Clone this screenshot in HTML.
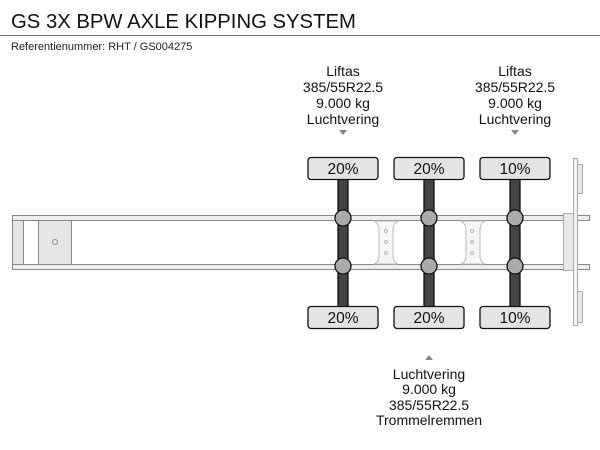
<!DOCTYPE html>
<html><head><meta charset="utf-8"><style>
html,body{margin:0;padding:0;background:#fff;}
svg{display:block;font-family:"Liberation Sans",sans-serif;}
</style></head><body>
<svg width="600" height="450" viewBox="0 0 600 450" xmlns="http://www.w3.org/2000/svg">
<text x="11" y="28" font-size="20.3" fill="#111">GS 3X BPW AXLE KIPPING SYSTEM</text>
<line x1="0" y1="35.5" x2="600" y2="35.5" stroke="#777" stroke-width="1"/>
<text x="11" y="50" font-size="11" fill="#222">Referentienummer: RHT / GS004275</text>

<g font-size="14" fill="#111" text-anchor="middle">
<text x="343" y="76">Liftas</text><text x="343" y="92">385/55R22.5</text><text x="343" y="108">9.000 kg</text><text x="343" y="124">Luchtvering</text>
<text x="515" y="76">Liftas</text><text x="515" y="92">385/55R22.5</text><text x="515" y="108">9.000 kg</text><text x="515" y="124">Luchtvering</text>
<text x="429" y="379">Luchtvering</text><text x="429" y="394">9.000 kg</text><text x="429" y="410">385/55R22.5</text><text x="429" y="425">Trommelremmen</text>
</g>
<polygon points="339,130 347,130 343,135" fill="#888"/>
<polygon points="511,130 519,130 515,135" fill="#888"/>
<polygon points="425,360 433,360 429,355" fill="#888"/>

<g stroke="#888" stroke-width="1">
<rect x="12.5" y="215.5" width="577" height="5" fill="#eee"/>
<rect x="12.5" y="264.5" width="577" height="5" fill="#eee"/>
<rect x="12.5" y="220.5" width="11" height="44" fill="#e6e6e6"/>
<rect x="38.5" y="220.5" width="33" height="44" fill="#e6e6e6"/>
<circle cx="55" cy="242" r="2.5" fill="none"/>
</g>
<g stroke="#bbb" stroke-width="1" fill="#f6f6f6">
<path d="M374,221 Q379,224 379,230 L379,256 Q379,262 374,264 L398,264 Q393,262 393,256 L393,230 Q393,224 398,221 Z"/>
<path d="M461,221 Q466,224 466,230 L466,256 Q466,262 461,264 L485,264 Q480,262 480,256 L480,230 Q480,224 485,221 Z"/>
</g>
<g fill="none" stroke="#aaa" stroke-width="0.8">
<circle cx="386" cy="231" r="1.5"/><circle cx="386" cy="242" r="1.5"/><circle cx="386" cy="253" r="1.5"/>
<circle cx="472" cy="231" r="1.5"/><circle cx="472" cy="242" r="1.5"/><circle cx="472" cy="253" r="1.5"/>
</g>
<g stroke="#aaa" stroke-width="1" fill="#e8e8e8">
<rect x="563.5" y="213.5" width="12" height="57"/>
<rect x="573.5" y="158.5" width="4" height="167" fill="#f2f2f2"/>
<rect x="577.5" y="164.5" width="5" height="29"/>
<rect x="577.5" y="291.5" width="5" height="31"/>
</g>

<g stroke="#111" stroke-width="1.3">
<rect x="338" y="178" width="10" height="130" fill="#444"/>
<rect x="424" y="178" width="10" height="130" fill="#444"/>
<rect x="510" y="178" width="10" height="130" fill="#444"/>
<g fill="#e4e4e4">
<rect x="308" y="157.5" width="70" height="22" rx="3"/>
<rect x="394" y="157.5" width="70" height="22" rx="3"/>
<rect x="480" y="157.5" width="70" height="22" rx="3"/>
<rect x="308" y="306.5" width="70" height="22" rx="3"/>
<rect x="394" y="306.5" width="70" height="22" rx="3"/>
<rect x="480" y="306.5" width="70" height="22" rx="3"/>
</g>
<g fill="#aaa">
<circle cx="343" cy="218" r="8"/><circle cx="343" cy="266" r="8"/>
<circle cx="429" cy="218" r="8"/><circle cx="429" cy="266" r="8"/>
<circle cx="515" cy="218" r="8"/><circle cx="515" cy="266" r="8"/>
</g>
</g>
<g font-size="15.5" fill="#111" text-anchor="middle">
<text x="343" y="174">20%</text><text x="429" y="174">20%</text><text x="515" y="174">10%</text>
<text x="343" y="323">20%</text><text x="429" y="323">20%</text><text x="515" y="323">10%</text>
</g>
</svg>
</body></html>
